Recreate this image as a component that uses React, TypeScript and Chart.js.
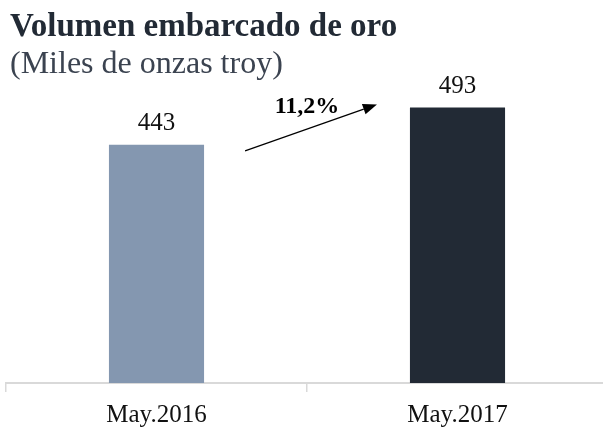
import React, { useEffect, useRef } from "react";
import { Chart, registerables } from "chart.js";

Chart.register(...registerables);

const categories = ["May.2016", "May.2017"];
const values = [443, 493];
const barColors = ["#8497B0", "#222A35"];
const titleText = "Volumen embarcado de oro";
const subtitleText = "(Miles de onzas troy)";
const growthLabel = "11,2%";
const yMin = 124;
const yMax = 637;

const SERIF = "'Liberation Serif', 'Times New Roman', serif";

export default function App() {
  const ref = useRef<HTMLCanvasElement>(null);

  useEffect(() => {
    const canvas = ref.current;
    if (!canvas) return;

    const annot = {
      id: "annot",
      afterDraw(chart: any) {
        const ctx = chart.ctx as CanvasRenderingContext2D;
        const meta = chart.getDatasetMeta(0);
        ctx.save();
        // titles
        ctx.textAlign = "left";
        ctx.textBaseline = "alphabetic";
        ctx.fillStyle = "#222A35";
        ctx.font = `bold 33px ${SERIF}`;
        ctx.fillText(titleText, 10, 36);
        ctx.fillStyle = "#3B4350";
        ctx.font = `32px ${SERIF}`;
        ctx.fillText(subtitleText, 10, 73);

        // value labels
        ctx.fillStyle = "#111111";
        ctx.font = `25px ${SERIF}`;
        ctx.textAlign = "center";
        meta.data.forEach((bar: any, i: number) => {
          ctx.fillText(String(values[i]), bar.x, bar.y - 15);
        });

        // growth arrow
        const b1 = meta.data[0];
        const b2 = meta.data[1];
        const x1 = b1.x + b1.width / 2 + 41;
        const y1 = b1.y + 6;
        const x2 = b2.x - b2.width / 2 - 33;
        const y2 = b2.y - 3;
        const ang = Math.atan2(y2 - y1, x2 - x1);
        const headLen = 14;
        const headHalf = 5.5;
        const bx = x2 - headLen * Math.cos(ang);
        const by = y2 - headLen * Math.sin(ang);
        ctx.strokeStyle = "#000000";
        ctx.lineWidth = 1.2;
        ctx.beginPath();
        ctx.moveTo(x1, y1);
        ctx.lineTo(bx, by);
        ctx.stroke();
        ctx.fillStyle = "#000000";
        ctx.beginPath();
        ctx.moveTo(x2, y2);
        ctx.lineTo(bx + headHalf * Math.sin(ang), by - headHalf * Math.cos(ang));
        ctx.lineTo(bx - headHalf * Math.sin(ang), by + headHalf * Math.cos(ang));
        ctx.closePath();
        ctx.fill();

        ctx.font = `bold 24px ${SERIF}`;
        ctx.textAlign = "center";
        ctx.fillText(growthLabel, (x1 + x2) / 2 - 4, y2 + 8);
        ctx.restore();
      },
    };

    const chart = new Chart(canvas, {
      type: "bar",
      data: {
        labels: categories,
        datasets: [
          {
            data: values,
            backgroundColor: barColors,
            borderWidth: 0,
            categoryPercentage: 1,
            barPercentage: 0.316,
          },
        ],
      },
      options: {
        responsive: false,
        animation: false,
        devicePixelRatio: 1,
        layout: { padding: { left: 6, right: 2, top: 0, bottom: 0 } },
        plugins: {
          legend: { display: false },
          title: { display: false },
          tooltip: { enabled: false },
        },
        scales: {
          y: {
            display: false,
            min: yMin,
            max: yMax,
          },
          x: {
            afterFit: (scale: any) => {
              scale.height = 46;
            },
            grid: {
              offset: true,
              drawOnChartArea: false,
              drawTicks: true,
              tickLength: 9,
              color: "#D9D9D9",
              lineWidth: 1.5,
            },
            border: { display: true, color: "#D9D9D9", width: 2 },
            ticks: {
              color: "#111111",
              padding: 8,
              font: { family: SERIF, size: 25 },
            },
          },
        },
      },
      plugins: [annot],
    });

    return () => chart.destroy();
  }, []);

  return (
    <div
      style={{
        position: "fixed",
        left: 0,
        top: 0,
        width: 603,
        height: 429,
        overflow: "hidden",
        background: "#ffffff",
      }}
    >
      <canvas ref={ref} width={610} height={429} style={{ display: "block" }} />
    </div>
  );
}
